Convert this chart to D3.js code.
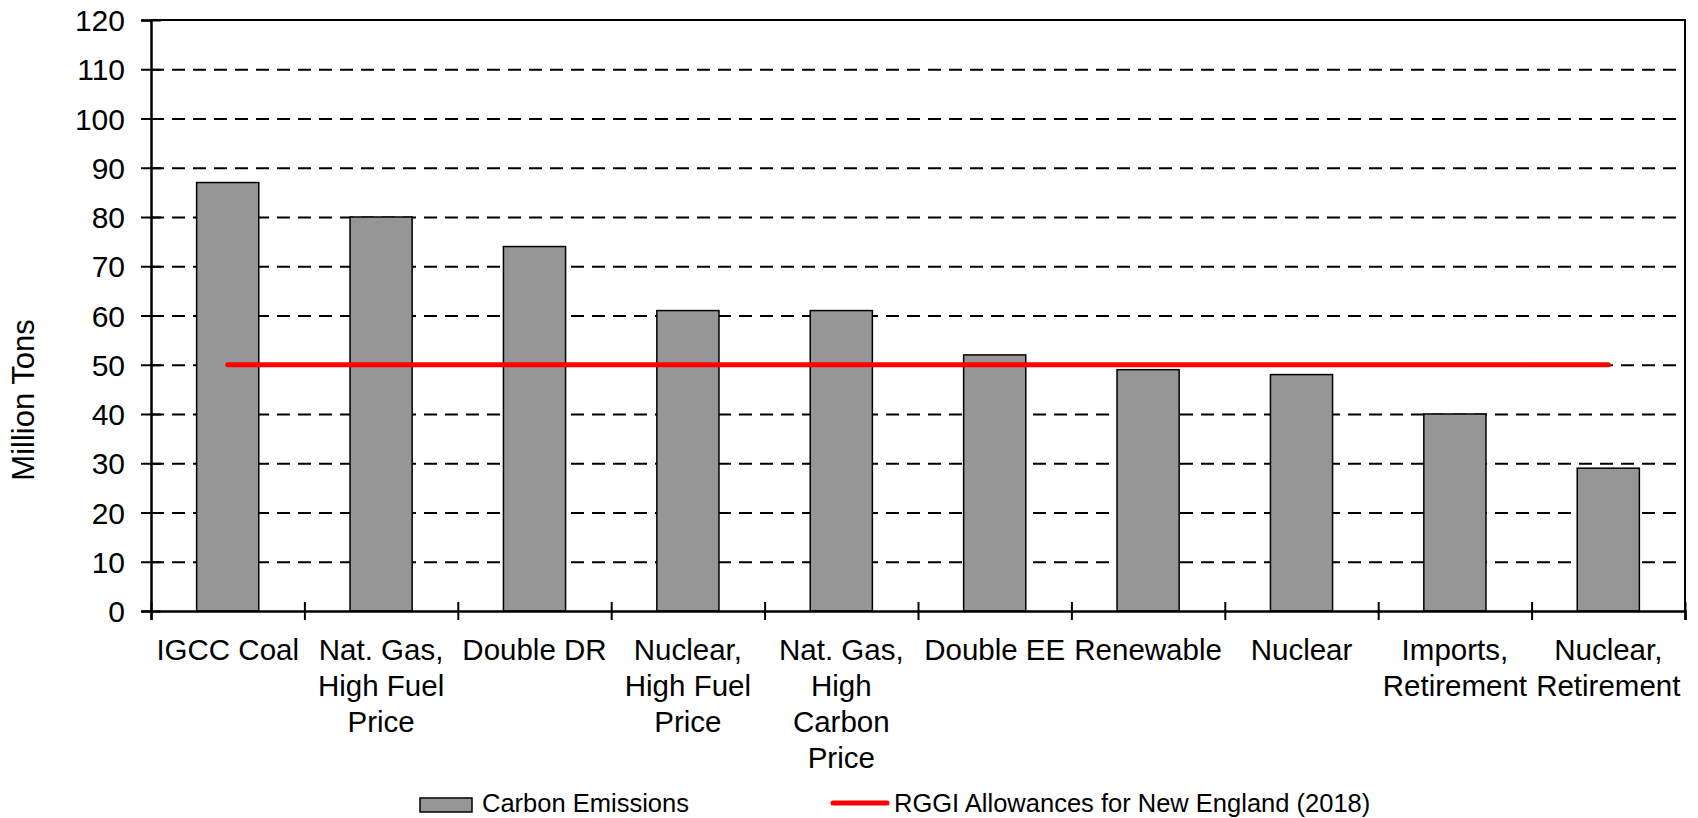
<!DOCTYPE html>
<html>
<head>
<meta charset="utf-8">
<script src="https://cdn.jsdelivr.net/npm/d3@7"></script>
<style>
  html, body { margin: 0; padding: 0; background: #fff; }
  svg { display: block; font-family: "Liberation Sans", Arial, sans-serif; }
</style>
</head>
<body>
<svg id="chart" width="1698" height="818"></svg>
<script>
// Scenario names (each entry is a list of label lines)
const categories = [
  ["IGCC Coal"],
  ["Nat. Gas,", "High Fuel", "Price"],
  ["Double DR"],
  ["Nuclear,", "High Fuel", "Price"],
  ["Nat. Gas,", "High", "Carbon", "Price"],
  ["Double EE"],
  ["Renewable"],
  ["Nuclear"],
  ["Imports,", "Retirement"],
  ["Nuclear,", "Retirement"]
];
// Carbon emissions per scenario, million tons
const emissions = [87, 80, 74, 61, 61, 52, 49, 48, 40, 29];
// RGGI allowance cap for New England (2018), million tons
const rggiCap = 50;
const yTicks = [0, 10, 20, 30, 40, 50, 60, 70, 80, 90, 100, 110, 120];
const legendLabels = ["Carbon Emissions", "RGGI Allowances for New England (2018)"];

const svg = d3.select("#chart");
const plot = { left: 151, right: 1685, top: 20, bottom: 611 };
const keys = categories.map((d, i) => i);

const x = d3.scaleBand().domain(keys).range([plot.left, plot.right]).padding(0);
const xEdge = d3.scaleLinear().domain([0, categories.length]).range([plot.left, plot.right]);
const y = d3.scaleLinear().domain([0, 120]).range([plot.bottom, plot.top]);
const barW = x.bandwidth() * 0.405;

// Dashed horizontal gridlines
const grid = svg.append("g")
  .attr("transform", `translate(${plot.left},0)`)
  .call(d3.axisLeft(y).tickValues(yTicks.filter(v => v > 0 && v < 120))
    .tickSize(-(plot.right - plot.left)).tickFormat(""));
grid.select(".domain").remove();
grid.selectAll("line")
  .attr("stroke", "#000").attr("stroke-width", 2).attr("stroke-dasharray", "13,8");

// Bars
svg.append("g").selectAll("rect")
  .data(emissions)
  .join("rect")
  .attr("x", (d, i) => x(i) + (x.bandwidth() - barW) / 2)
  .attr("y", d => y(d))
  .attr("width", barW)
  .attr("height", d => y(0) - y(d))
  .attr("fill", "#969696")
  .attr("stroke", "#000")
  .attr("stroke-width", 1.5);

// Plot frame (top and right edges)
svg.append("path")
  .attr("d", `M${plot.left},${plot.top}H${plot.right}V${plot.bottom}`)
  .attr("fill", "none").attr("stroke", "#000").attr("stroke-width", 2);

// Y axis with ticks crossing the axis line
const yAxis = svg.append("g")
  .attr("transform", `translate(${plot.left},0)`)
  .call(d3.axisLeft(y).tickValues(yTicks).tickSize(10).tickPadding(0));
yAxis.select(".domain").attr("stroke", "#000").attr("stroke-width", 2.5);
yAxis.selectAll(".tick line").attr("x1", 10).attr("x2", -10)
  .attr("stroke", "#000").attr("stroke-width", 2);
yAxis.selectAll(".tick text")
  .attr("x", -26).attr("dy", "0.35em")
  .attr("font-size", 30).attr("fill", "#000")
  .attr("font-family", "Liberation Sans, Arial, sans-serif");

// X axis: ticks at category boundaries, crossing the baseline
const xAxis = svg.append("g")
  .attr("transform", `translate(0,${plot.bottom})`)
  .call(d3.axisBottom(xEdge).tickValues(d3.range(categories.length + 1))
    .tickSize(9).tickFormat(""));
xAxis.select(".domain").attr("stroke", "#000").attr("stroke-width", 2.5);
xAxis.selectAll(".tick line").attr("y1", -9).attr("y2", 9)
  .attr("stroke", "#000").attr("stroke-width", 2);

// Category labels
const labels = svg.append("g").attr("font-size", 29.5).attr("text-anchor", "middle").attr("fill", "#000");
categories.forEach((lines, i) => {
  const t = labels.append("text")
    .attr("x", x(i) + x.bandwidth() / 2)
    .attr("y", 660);
  lines.forEach((ln, j) => {
    t.append("tspan")
      .attr("x", x(i) + x.bandwidth() / 2)
      .attr("y", 660 + j * 36)
      .text(ln);
  });
});

// RGGI allowance line
svg.append("line")
  .attr("x1", x(0) + x.bandwidth() / 2)
  .attr("x2", x(categories.length - 1) + x.bandwidth() / 2)
  .attr("y1", y(rggiCap)).attr("y2", y(rggiCap))
  .attr("stroke", "#ff0000").attr("stroke-width", 5).attr("stroke-linecap", "round");

// Y axis title
svg.append("text")
  .attr("transform", "translate(34,400) rotate(-90)")
  .attr("text-anchor", "middle")
  .attr("font-size", 31).attr("fill", "#000")
  .text("Million Tons");

// Legend
const legend = svg.append("g").attr("font-size", 25.5).attr("fill", "#000");
legend.append("rect")
  .attr("x", 420).attr("y", 798).attr("width", 52).attr("height", 14)
  .attr("fill", "#969696").attr("stroke", "#000").attr("stroke-width", 1.5);
legend.append("text").attr("x", 482).attr("y", 812).text(legendLabels[0]);
legend.append("line")
  .attr("x1", 833).attr("x2", 887).attr("y1", 803).attr("y2", 803)
  .attr("stroke", "#ff0000").attr("stroke-width", 5).attr("stroke-linecap", "round");
legend.append("text").attr("x", 894).attr("y", 812).text(legendLabels[1]);
</script>
</body>
</html>
